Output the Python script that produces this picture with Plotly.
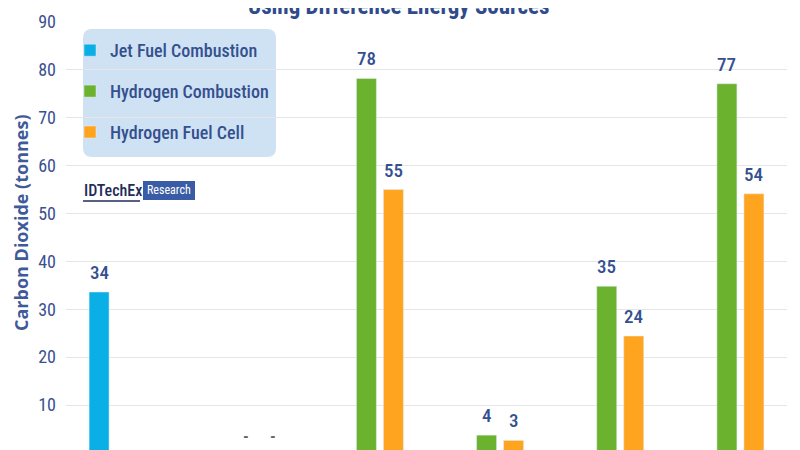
import plotly.graph_objects as go

categories = ["A", "B", "C", "D", "E", "F"]
series_names = ["Jet Fuel Combustion", "Hydrogen Combustion", "Hydrogen Fuel Cell"]
jet_fuel = [33.6, None, None, None, None, None]
h2_combustion = [None, 0, 78.2, 3.7, 34.8, 77.1]
h2_fuel_cell = [None, 0, 55.0, 2.6, 24.4, 54.1]
y_ticks = [0, 10, 20, 30, 40, 50, 60, 70, 80, 90]

colors = ["#0AAFE6", "#6BB22F", "#FFA41F"]
TXT = "#34508F"
COND = "Roboto Condensed, Liberation Sans Narrow, Arial Narrow, Roboto, sans-serif"

OFF = 8  # page body margin in the browser
W, H = 800, 450
ML, MR, MT, MB = 66 - OFF, 800 - (787 - OFF), 22 - OFF, 0
PW, PH = W - ML - MR, H - MT - MB
BARGAP, GROUPGAP = 0.326, 0.26


def px2paper(x, y):
    fx, fy = x - OFF, y - OFF
    return (fx - ML) / PW, (H - MB - fy) / PH


fig = go.Figure()
all_series = [jet_fuel, h2_combustion, h2_fuel_cell]
for name, vals, col in zip(series_names, all_series, colors):
    fig.add_trace(go.Bar(x=categories, y=vals, name=name, marker_color=col,
                         legendgroup=name))

# value labels placed above the bars
slot = PW / len(categories) * (1 - BARGAP) / len(all_series)
annotations = []
for i, vals in enumerate(all_series):
    for cat, v in zip(categories, vals):
        if v is None:
            continue
        if v == 0:
            annotations.append(dict(x=cat, y=v, xref="x", yref="y", text="-", showarrow=False,
                                    xshift=(i - 1) * slot, yshift=16, yanchor="middle",
                                    font=dict(family=COND, size=16, color="#666666", weight=700)))
        else:
            annotations.append(dict(x=cat, y=v, xref="x", yref="y", text=f"{v:.0f}",
                                    showarrow=False, xshift=(i - 1) * slot, yshift=6,
                                    yanchor="bottom",
                                    font=dict(family=COND, size=19, color=TXT, weight=500)))

# rounded legend box
x0, y0 = px2paper(83, 157)
x1, y1 = px2paper(276, 29)
rx, ry = 9 / PW, 9 / PH
path = (f"M {x0+rx},{y0} L {x1-rx},{y0} Q {x1},{y0} {x1},{y0+ry} "
        f"L {x1},{y1-ry} Q {x1},{y1} {x1-rx},{y1} L {x0+rx},{y1} "
        f"Q {x0},{y1} {x0},{y1-ry} L {x0},{y0+ry} Q {x0},{y0} {x0+rx},{y0} Z")
shapes = [dict(type="path", xref="paper", yref="paper", path=path,
               fillcolor="#CFE2F3", line=dict(width=0), layer="below")]

# logo
lx0, ly0 = px2paper(143, 200)
lx1, ly1 = px2paper(195, 181)
shapes.append(dict(type="rect", xref="paper", yref="paper", x0=lx0, x1=lx1, y0=ly0, y1=ly1,
                   fillcolor="#3A5BA5", line=dict(width=0)))
ux0, uy = px2paper(83, 201)
ux1, _ = px2paper(140, 201)
shapes.append(dict(type="line", xref="paper", yref="paper", x0=ux0, x1=ux1, y0=uy, y1=uy,
                   line=dict(color="#1F2D5A", width=1.5)))

ax, ay = px2paper(82, 190)
annotations.append(dict(xref="paper", yref="paper", x=ax, y=ay, xanchor="left", yanchor="middle",
                        text="IDTechEx", showarrow=False,
                        font=dict(family=COND, size=16, color="#1F2D5A", weight=500)))
rx_, ry_ = px2paper(169, 190)
annotations.append(dict(xref="paper", yref="paper", x=rx_, y=ry_, xanchor="center", yanchor="middle",
                        text="Research", showarrow=False,
                        font=dict(family=COND, size=12, color="white")))
tx, ty = px2paper(399, 6)
annotations.append(dict(xref="paper", yref="paper", x=tx, y=ty, xanchor="center", yanchor="middle",
                        text="<b>Using Difference Energy Sources</b>", showarrow=False,
                        font=dict(family=COND, size=23, color="#2F4B8C")))
# y-axis title
yx, yy = px2paper(21, 223)
annotations.append(dict(xref="paper", yref="paper", x=yx, y=yy, xanchor="center", yanchor="middle",
                        text="<b>Carbon Dioxide (tonnes)</b>", textangle=-90, showarrow=False,
                        font=dict(family="Open Sans", size=18, color="#3F5A9B")))

lgx, lgy = px2paper(70, 32)
fig.update_layout(
    width=W, height=H,
    margin=dict(l=ML, r=MR, t=MT, b=MB, autoexpand=False),
    paper_bgcolor="white", plot_bgcolor="white",
    barmode="group", bargap=BARGAP, bargroupgap=GROUPGAP,
    showlegend=True,
    legend=dict(x=lgx, y=lgy, xanchor="left", yanchor="top", bgcolor="rgba(0,0,0,0)",
                font=dict(family=COND, size=18, color=TXT, weight=500), traceorder="grouped",
                tracegroupgap=14.5, itemwidth=30),
    xaxis=dict(showticklabels=False, showgrid=False, zeroline=False, range=[-0.5, 5.5]),
    yaxis=dict(range=[-1.07, 90], tickvals=y_ticks, showgrid=True, gridcolor="#E6E6E6",
               zeroline=False, ticks="", ticklabelstandoff=9,
               tickfont=dict(family=COND, size=18, color="#3A5190")),
    shapes=shapes, annotations=annotations,
)

fig.write_html("out.html")
